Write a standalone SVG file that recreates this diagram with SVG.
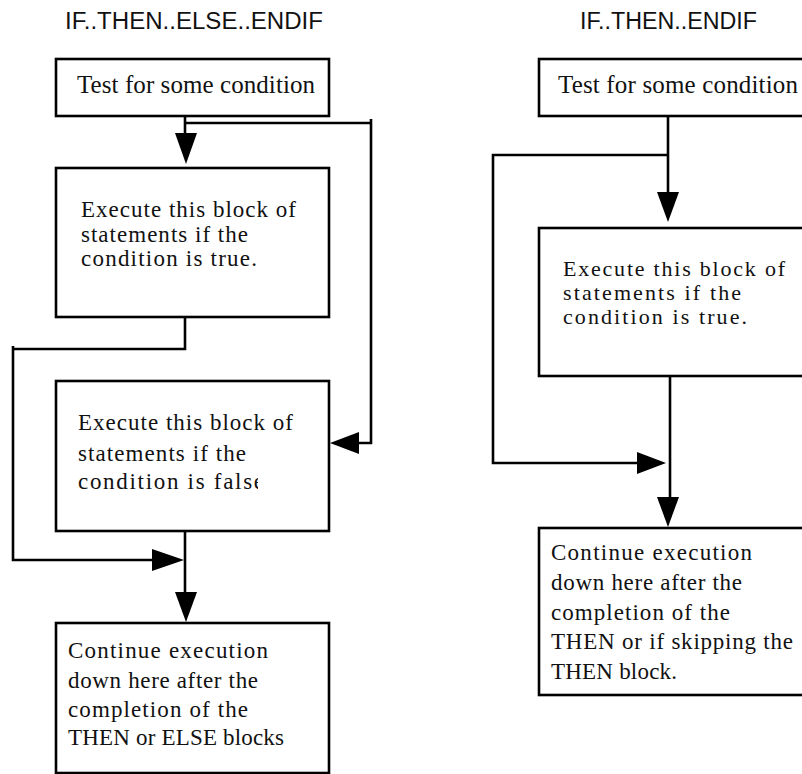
<svg xmlns="http://www.w3.org/2000/svg" width="802" height="774" viewBox="0 0 802 774">
<style>
.box{fill:#fff;stroke:#000;stroke-width:2.6}
.t{font-family:"Liberation Serif","Times New Roman",serif;font-size:23px;fill:#111}
.big{font-size:25px}
.sm{font-size:22px}
.title{font-family:"Liberation Sans",Arial,sans-serif;font-size:23px;fill:#111}
.ln{fill:none;stroke:#000;stroke-width:2.6}
.ah{fill:#000;stroke:none}
</style>
<defs>
<clipPath id="clipFalse"><rect x="60" y="460" width="198" height="40"/></clipPath>
</defs>
<rect width="802" height="774" fill="#fff"/>
<text class="title" x="65" y="29" textLength="258" lengthAdjust="spacingAndGlyphs">IF..THEN..ELSE..ENDIF</text>
<text class="title" x="580" y="29" textLength="177" lengthAdjust="spacingAndGlyphs">IF..THEN..ENDIF</text>

<g id="connectors">
<path class="ln" d="M185,116 V134"/>
<polygon class="ah" points="175,133 197,133 186,164"/>
<path class="ln" d="M185,123 H371 M371,119 V443 H358"/>
<polygon class="ah" points="359,432 359,454 330,443"/>
<path class="ln" d="M185,317 V349 H13 M13,346 V560 H153"/>
<polygon class="ah" points="152,549 152,571 184,560"/>
<path class="ln" d="M185,528 V593"/>
<polygon class="ah" points="175,592 197,592 186,622"/>

<path class="ln" d="M668,116 V193"/>
<polygon class="ah" points="657,192 679,192 668,222"/>
<path class="ln" d="M668,155 H493 V463 H638"/>
<polygon class="ah" points="637,452 637,474 666,463"/>
<path class="ln" d="M670,373 V498"/>
<polygon class="ah" points="657,497 679,497 668,527"/>
</g>

<g id="test-left">
<rect class="box" x="56" y="59" width="273" height="57"/>
<text class="t big" x="77" y="93" textLength="238" lengthAdjust="spacing">Test for some condition</text>
</g>
<g id="then-left">
<rect class="box" x="56" y="168" width="273" height="149"/>
<text class="t" x="81" y="217" textLength="215" lengthAdjust="spacing">Execute this block of</text>
<text class="t" x="81" y="242" textLength="167" lengthAdjust="spacing">statements if the</text>
<text class="t" x="81" y="266" textLength="176" lengthAdjust="spacing">condition is true.</text>
</g>
<g id="else-left">
<rect class="box" x="56" y="381" width="273" height="150"/>
<text class="t" x="78" y="430" textLength="215" lengthAdjust="spacing">Execute this block of</text>
<text class="t" x="78" y="461" textLength="168" lengthAdjust="spacing">statements if the</text>
<text class="t" x="78" y="489" textLength="186" lengthAdjust="spacing" clip-path="url(#clipFalse)">condition  is false</text>
</g>
<g id="continue-left">
<rect class="box" x="56" y="623" width="273" height="150"/>
<text class="t" x="68" y="658" textLength="200" lengthAdjust="spacing">Continue execution</text>
<text class="t" x="68" y="688" textLength="190" lengthAdjust="spacing">down here after the</text>
<text class="t" x="68" y="717" textLength="180" lengthAdjust="spacing">completion of the</text>
<text class="t" x="68" y="745" textLength="216" lengthAdjust="spacing">THEN or ELSE blocks</text>
</g>

<g id="test-right">
<rect class="box" x="539" y="59" width="275" height="57"/>
<text class="t big" x="558" y="93" textLength="240" lengthAdjust="spacing">Test for some condition</text>
</g>
<g id="then-right">
<rect class="box" x="539" y="228" width="275" height="148"/>
<text class="t sm" x="563" y="276" textLength="222" lengthAdjust="spacing">Execute this block of</text>
<text class="t sm" x="563" y="300" textLength="178" lengthAdjust="spacing">statements if the</text>
<text class="t sm" x="563" y="324" textLength="184" lengthAdjust="spacing">condition is true.</text>
</g>
<g id="continue-right">
<rect class="box" x="539" y="528" width="275" height="167"/>
<text class="t" x="551" y="560" textLength="201" lengthAdjust="spacing">Continue execution</text>
<text class="t" x="551" y="590" textLength="191" lengthAdjust="spacing">down here after the</text>
<text class="t" x="551" y="620" textLength="179" lengthAdjust="spacing">completion of the</text>
<text class="t" x="551" y="649" textLength="242" lengthAdjust="spacing">THEN or if skipping the</text>
<text class="t" x="551" y="679" textLength="126" lengthAdjust="spacing">THEN block.</text>
</g>
</svg>
